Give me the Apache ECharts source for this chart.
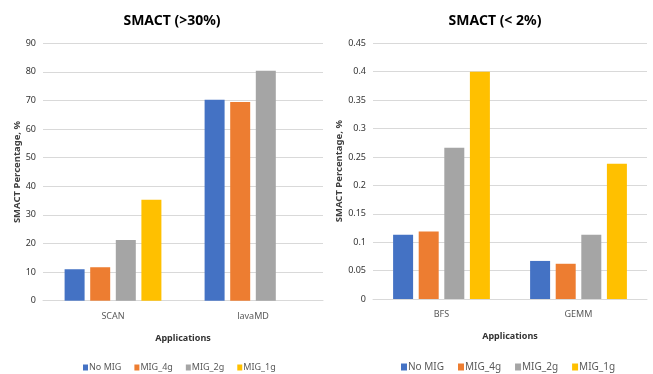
<!DOCTYPE html>
<html><head><meta charset="utf-8">
<script src="https://cdn.jsdelivr.net/npm/echarts@6/dist/echarts.min.js"></script>
<style>html,body{margin:0;padding:0;background:#fff}#c{width:653px;height:374px}</style>
</head><body><div id="c"></div>
<script>
var seriesNames = ['No MIG', 'MIG_4g', 'MIG_2g', 'MIG_1g'];
var colors = ['#4472C4', '#ED7D31', '#A5A5A5', '#FFC000'];
var leftCategories = ['SCAN', 'lavaMD'];
var leftNoMIG = [11.0, 70.3];
var left4g = [11.7, 69.5];
var left2g = [21.2, 80.4];
var left1g = [35.3, null];
var rightCategories = ['BFS', 'GEMM'];
var rightNoMIG = [0.113, 0.067];
var right4g = [0.119, 0.062];
var right2g = [0.266, 0.113];
var right1g = [0.400, 0.238];

var leftData = [leftNoMIG, left4g, left2g, left1g];
var rightData = [rightNoMIG, right4g, right2g, right1g];
var font = "'Noto Sans', sans-serif";
var chart = echarts.init(document.getElementById('c'));
function mkSeries(dataArr, idx) {
  return dataArr.map(function (d, i) {
    return {
      name: seriesNames[i], type: 'bar', xAxisIndex: idx, yAxisIndex: idx,
      data: d, barWidth: 20, barGap: '28%', itemStyle: { color: colors[i] }
    };
  });
}
function yAx(gridIndex, max, interval, gap, fmt) {
  return {
    type: 'value', gridIndex: gridIndex, min: 0, max: max, interval: interval,
    name: 'SMACT Percentage, %', nameLocation: 'middle', nameGap: gap,
    nameTextStyle: { fontFamily: font, fontWeight: 'bold', fontSize: 9.5, color: '#404040' },
    axisLabel: { fontFamily: font, fontSize: 9, color: '#333', margin: 7, formatter: fmt },
    axisLine: { show: false }, axisTick: { show: false },
    splitLine: { lineStyle: { color: '#D9D9D9', width: 1 } }
  };
}
function xAx(gridIndex, cats) {
  return {
    type: 'category', gridIndex: gridIndex, data: cats,
    name: 'Applications', nameLocation: 'middle', nameGap: 33,
    nameTextStyle: { fontFamily: font, fontWeight: 'bold', fontSize: 9, color: '#333' },
    axisLabel: { fontFamily: font, fontSize: 9, color: '#595959', margin: 11 },
    axisLine: { lineStyle: { color: '#D9D9D9' } }, axisTick: { show: false }
  };
}
chart.setOption({
  animation: false,
  title: [
    { text: 'SMACT (>30%)', left: 167, top: 9, textAlign: 'center',
      textStyle: { fontFamily: font, fontSize: 14, fontWeight: 'bold', color: '#000' } },
    { text: 'SMACT (< 2%)', left: 490, top: 9, textAlign: 'center',
      textStyle: { fontFamily: font, fontSize: 14, fontWeight: 'bold', color: '#000' } }
  ],
  legend: [
    { data: seriesNames, left: 78, top: 358, itemWidth: 5, itemHeight: 6, itemGap: 13, icon: 'rect',
      textStyle: { fontFamily: font, fontSize: 9, color: '#595959', padding: [0, 0, 0, -4] } },
    { data: seriesNames, left: 396, top: 357, itemWidth: 6, itemHeight: 7, itemGap: 14, icon: 'rect',
      textStyle: { fontFamily: font, fontSize: 10, color: '#595959', padding: [0, 0, 0, -4] } }
  ],
  grid: [
    { left: 43, right: 330, top: 43.3, bottom: 73.3 },
    { left: 373, right: 6, top: 43.3, bottom: 75 }
  ],
  xAxis: [xAx(0, leftCategories), xAx(1, rightCategories)],
  yAxis: [yAx(0, 90, 10, 19), yAx(1, 0.45, 0.05, 25, function (v) { return +v.toFixed(2) + ''; })],
  series: mkSeries(leftData, 0).concat(mkSeries(rightData, 1))
});
</script></body></html>
